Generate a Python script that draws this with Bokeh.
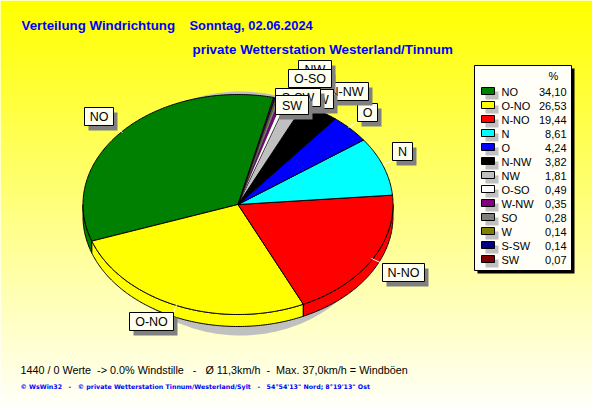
import numpy as np
from bokeh.plotting import figure
from bokeh.models import Range1d
from bokeh.embed import file_html
from bokeh.resources import INLINE
from bokeh.core.properties import value

# ---------- data ----------
directions = ["NO", "O-NO", "N-NO", "N", "O", "N-NW", "NW", "O-SO", "W-NW", "SO", "W", "S-SW", "SW"]
percents = [34.10, 26.53, 19.44, 8.61, 4.24, 3.82, 1.81, 0.49, 0.35, 0.28, 0.14, 0.14, 0.07]
percent_labels = ["34,10", "26,53", "19,44", "8,61", "4,24", "3,82", "1,81", "0,49", "0,35", "0,28", "0,14", "0,14", "0,07"]
colors = ["#008000", "#ffff00", "#ff0000", "#00ffff", "#0000ff", "#000000", "#c0c0c0", "#ffffff",
          "#800080", "#808080", "#808000", "#000080", "#800000"]

NB = "\u00a0"
title_left = "Verteilung Windrichtung"
title_date = "Sonntag, 02.06.2024"
title_station = "private Wetterstation Westerland/Tinnum"
footer_stats = f"1440 / 0 Werte {NB}-> 0.0% Windstille {NB} - {NB} Ø 11,3km/h {NB}- {NB}Max. 37,0km/h = Windböen"
footer_credit = f"© WsWin32 {NB} - {NB} © private Wetterstation Tinnum/Westerland/Sylt {NB} - {NB} 54°54'13\" Nord; 8°19'13\" Ost"

# ---------- layout (all in window pixels) ----------
W, H = 592, 407
CX, CY, RX, RY, DEPTH = 237.5, 204, 155, 110, 12
START = 76.7
FONT = value("Liberation Sans")

# label boxes: x0, y0, x1, y1
label_boxes = {
    "NO": (84, 107, 113, 125), "O-NO": (129, 312, 173, 330), "N-NO": (382, 263, 424, 281),
    "N": (392, 142, 412, 160), "O": (357, 103, 377, 121), "N-NW": (324, 82, 368, 100),
    "NW": (298, 60, 331, 78), "O-SO": (288, 69, 331, 87), "W-NW": (287, 89, 333, 108),
    "SO": (285, 90, 312, 106), "W": (290, 90, 312, 106), "S-SW": (275, 88, 320, 106),
    "SW": (275, 95, 308, 114),
}
leaders = {
    "NO": ((113, 125), (122, 132)), "O-NO": ((176, 304), (173, 312)), "N-NO": ((371, 258), (382, 263)),
    "N": ((383, 164), (392, 160)), "O": ((348, 127), (357, 121)),
}

p = figure(width=W, height=H, x_range=Range1d(0, W), y_range=Range1d(H, 0),
           output_backend="svg", toolbar_location=None, min_border=0, outline_line_color=None)
p.axis.visible = False
p.grid.visible = False
p.background_fill_color = "#ffffff"

# background gradient
ys = np.arange(0, H, 2)
shade = [f"#ffff{int(min(255, 250 * y / H)):02x}" for y in ys]
p.quad(left=0, right=W, top=ys, bottom=ys + 2.5, fill_color=shade, line_color=None)

# pie shadow
t = np.radians(np.arange(0, 360, 2))
p.patch(240 + 140 * np.cos(t), 213 + 122 * np.sin(t), fill_color="#c0c0c0", line_color=None)


def arc(a0, a1, n=None):
    n = n or max(2, int(abs(a1 - a0) * 1.5) + 2)
    a = np.radians(np.linspace(a0, a1, n))
    return CX + RX * np.cos(a), CY - RY * np.sin(a)


edges = START + np.concatenate([[0], np.cumsum(percents)]) * 360 / sum(percents)

# pie rim
for a0, a1, c in zip(edges[:-1], edges[1:], colors):
    lo, hi = max(a0, 180), min(a1, 360)
    if hi > lo:
        x, y = arc(lo, hi)
        p.patch(np.r_[x, x[::-1]], np.r_[y, y[::-1] + DEPTH], fill_color=c, line_color="black", line_width=1)

# pie top (thin outline on the slivers so that their colour stays visible)
for a0, a1, c, v in zip(edges[:-1], edges[1:], colors, percents):
    x, y = arc(a0, a1)
    p.patch(np.r_[CX, x], np.r_[CY, y], fill_color=c, line_color="black", line_width=1 if v > 1 else 0.3)

# leader lines
for (x0, y0), (x1, y1) in leaders.values():
    p.line([x0, x1], [y0, y1], line_color="#ffffff", line_width=1)

# slice labels, drawn in series order so later ones cover earlier ones
for name in directions:
    x0, y0, x1, y1 = label_boxes[name]
    p.quad(left=x0 + 4, right=x1 + 4, top=y0 + 5, bottom=y1 + 5, fill_color="#808080", line_color=None)
    p.quad(left=x0, right=x1, top=y0, bottom=y1, fill_color="#fffff0", line_color="black", line_width=1)
    p.text([(x0 + x1) / 2], [(y0 + y1) / 2 + 0.5], text=[name], text_font=FONT, text_font_size="12.5px",
           text_align="center", text_baseline="middle", text_color="#000000")

# legend
LX0, LY0, LX1, LY1 = 474, 65, 571, 270
ROW0, ROWH = 91, 14
p.quad(left=LX0 + 3, right=LX1 + 3, top=LY0 + 3, bottom=LY1 + 3, fill_color="#000000", line_color=None)
p.quad(left=LX0, right=LX1, top=LY0, bottom=LY1, fill_color="#fffff8", line_color="black", line_width=1)
p.text([553], [75], text=["%"], text_font=FONT, text_font_size="11px", text_align="center",
       text_baseline="middle", text_color="#000000")
rows = ROW0 + ROWH * np.arange(len(directions))
p.quad(left=485, right=498, top=rows, bottom=rows + 8, fill_color="#c0c0c0", line_color=None)
p.quad(left=481, right=494, top=rows - 4, bottom=rows + 3, fill_color=colors, line_color="black", line_width=1)
p.text(501, rows, text=directions, text_font=FONT, text_font_size="11px", text_baseline="middle", text_color="#000000")
p.text(566, rows, text=percent_labels, text_font=FONT, text_font_size="11px", text_align="right",
       text_baseline="middle", text_color="#000000")

# titles
for x, y, s, size in [(21, 25, title_left, "13.3px"), (189, 25, title_date, "12.9px"), (192, 49, title_station, "13.4px")]:
    p.text([x], [y], text=[s], text_font=FONT, text_font_size=size, text_font_style="bold",
           text_baseline="middle", text_color="#0000ff")

# footer
p.text([20], [369], text=[footer_stats], text_font=FONT, text_font_size="10.8px", text_baseline="middle", text_color="#000000")
p.text([20], [386], text=[footer_credit], text_font=value("DejaVu Sans"), text_font_size="6.3px", text_font_style="bold",
       text_baseline="middle", text_color="#0000ff")

open("out.html", "w").write(file_html(p, INLINE))
